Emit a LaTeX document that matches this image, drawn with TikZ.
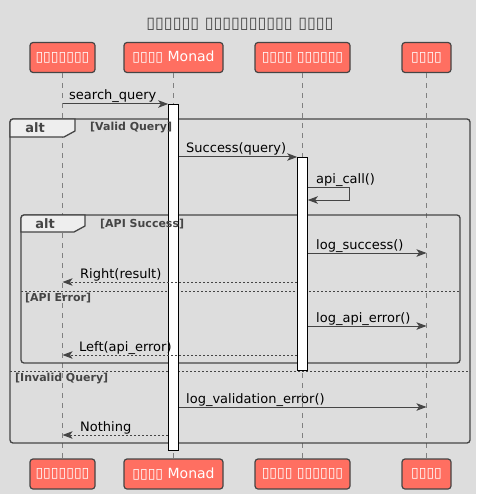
\documentclass[tikz,border=0pt]{standalone}
\usepackage{fontspec}
\setmainfont{DejaVu Sans}
\usetikzlibrary{arrows.meta}
\definecolor{bg}{HTML}{DDDDDD}
\definecolor{pfill}{HTML}{FF6F61}
\definecolor{ln}{HTML}{454545}
\definecolor{lifec}{HTML}{808080}
\definecolor{tabfill}{HTML}{EEEEEE}
\tikzset{
  part/.style={draw=ln, line width=1.2pt, fill=pfill, rounded corners=3pt, minimum height=30pt, inner sep=0pt, text=white, font=\fontsize{14}{16}\selectfont},
  life/.style={draw=lifec, line width=0.8pt, dash pattern=on 5pt off 5pt},
  actbar/.style={draw=black, fill=white, line width=1pt, minimum width=9.6pt, inner sep=0pt},
  msg/.style={draw=ln, line width=1pt, -{Stealth[length=10pt,width=7.5pt,inset=2.5pt]}},
  ret/.style={msg, dash pattern=on 2pt off 2pt},
  mlab/.style={font=\fontsize{13}{15}\selectfont, text=black, inner sep=0pt, anchor=base west},
  frame/.style={draw=ln, line width=1.3pt, rounded corners=3pt},
  tabbox/.style={draw=ln, line width=1.3pt, fill=tabfill},
  flab/.style={font=\bfseries\fontsize{11}{13}\selectfont, text=ln, inner sep=0pt},
  sep/.style={draw=ln, line width=0.9pt, dash pattern=on 2pt off 2pt},
}
\begin{document}
\begin{tikzpicture}[x=1pt,y=-1pt]
\useasboundingbox[fill=bg] (0,0) rectangle (476,494);
% title
\node[font=\bfseries\fontsize{16}{18}\selectfont, text=ln, inner sep=0pt] (title) at (240,24) {▯▯▯▯▯▯ ▯▯▯▯▯▯▯▯▯▯ ▯▯▯▯};
% participants
\node[part, minimum width=65pt] (p1t) at (62.5,57.5) {▯▯▯▯▯▯▯};
\node[part, minimum width=99pt] (p2t) at (173.5,57.5) {▯▯▯▯ Monad};
\node[part, minimum width=95pt] (p3t) at (302.5,57.5) {▯▯▯▯ ▯▯▯▯▯▯};
\node[part, minimum width=49pt] (p4t) at (426.5,57.5) {▯▯▯▯};
\node[part, minimum width=65pt] (p1b) at (62.5,474) {▯▯▯▯▯▯▯};
\node[part, minimum width=99pt] (p2b) at (173.5,474) {▯▯▯▯ Monad};
\node[part, minimum width=95pt] (p3b) at (302.5,474) {▯▯▯▯ ▯▯▯▯▯▯};
\node[part, minimum width=49pt] (p4b) at (426.5,474) {▯▯▯▯};
% lifelines
\draw[life] (p1t.south) -- (p1b.north);
\draw[life] (p2t.south) -- (p2b.north);
\draw[life] (p3t.south) -- (p3b.north);
\draw[life] (p4t.south) -- (p4b.north);
% outer alt frame
\draw[frame] (10,119) rectangle (470,443);
\draw[tabbox] (10,137) -- (10,122) [rounded corners=3pt] -- (10,119) [sharp corners] -- (75,119) -- (75,131) -- (64,137) -- cycle;
% inner alt frame
\draw[frame] (21,215) rectangle (460,363);
\draw[tabbox] (21,232) -- (21,218) [rounded corners=3pt] -- (21,215) [sharp corners] -- (85,215) -- (85,226) -- (74,232) -- cycle;
% separators
\draw[sep] (21,291) -- (460,291);
\draw[sep] (10,371) -- (470,371);
% activation bars
\node[actbar, minimum height=346pt, anchor=north] (a2) at (173.5,104) {};
\node[actbar, minimum height=213pt, anchor=north] (a3) at (302.5,157) {};
% frame labels
\node[flab, font=\bfseries\fontsize{13}{15}\selectfont] (alt1) at (35,128) {alt};
\node[flab, anchor=west] (g1) at (90,128) {[Valid Query]};
\node[flab, font=\bfseries\fontsize{13}{15}\selectfont] (alt2) at (45,224) {alt};
\node[flab, anchor=west] (g2) at (100,224) {[API Success]};
\node[flab, anchor=west] (g3) at (25,298) {[API Error]};
\node[flab, anchor=west] (g4) at (15,379) {[Invalid Query]};
% messages
\draw[msg] (p1t |- 0,104) -- (a2.west |- 0,104);
\node[mlab] (l1) at (69,100) {search\_query};
\draw[msg] (a2.east |- 0,157) -- (a3.west |- 0,157);
\node[mlab] (l2) at (186,153) {Success(query)};
\draw[msg] (a3.east |- 0,187) -- (349,187) |- (a3.east |- 0,200);
\node[mlab] (l3) at (316,183) {api\_call()};
\draw[msg] (a3.east |- 0,253) -- (p4t |- 0,253);
\node[mlab] (l4) at (316,249) {log\_success()};
\draw[ret] (a3.west |- 0,282) -- (p1t |- 0,282);
\node[mlab] (l5) at (80,278) {Right(result)};
\draw[msg] (a3.east |- 0,326) -- (p4t |- 0,326);
\node[mlab] (l6) at (316,322) {log\_api\_error()};
\draw[ret] (a3.west |- 0,355) -- (p1t |- 0,355);
\node[mlab] (l7) at (79,351) {Left(api\_error)};
\draw[msg] (a2.east |- 0,407) -- (p4t |- 0,407);
\node[mlab] (l8) at (186,403) {log\_validation\_error()};
\draw[ret] (a2.west |- 0,435) -- (p1t |- 0,435);
\node[mlab] (l9) at (80,431) {Nothing};
\end{tikzpicture}
\end{document}
